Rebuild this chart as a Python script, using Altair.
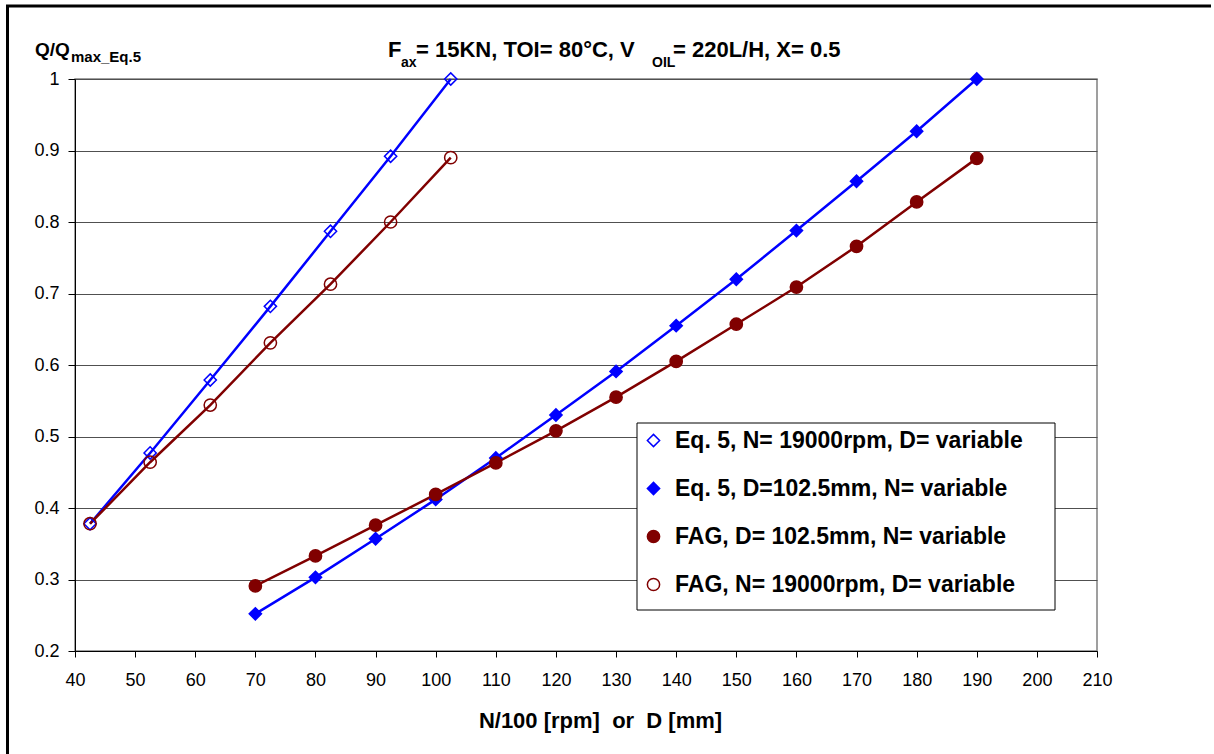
import altair as alt
import pandas as pd

# ---- data ----
d_var = [42.5, 52.5, 62.5, 72.5, 82.5, 92.5, 102.5]
eq5_n19000 = [0.378, 0.477, 0.579, 0.682, 0.787, 0.892, 1.0]
fag_n19000 = [0.378, 0.464, 0.544, 0.631, 0.713, 0.800, 0.890]

n_var = [70, 80, 90, 100, 110, 120, 130, 140, 150, 160, 170, 180, 190]
eq5_d1025 = [0.252, 0.303, 0.357, 0.412, 0.470, 0.530, 0.591, 0.655, 0.720, 0.788, 0.857, 0.927, 1.0]
fag_d1025 = [0.291, 0.333, 0.376, 0.419, 0.463, 0.508, 0.555, 0.605, 0.657, 0.709, 0.766, 0.828, 0.889]

series_names = [
    "Eq. 5, N= 19000rpm, D= variable",
    "Eq. 5, D=102.5mm, N= variable",
    "FAG, D= 102.5mm, N= variable",
    "FAG, N= 19000rpm, D= variable",
]
series_shapes = ["diamond", "diamond", "circle", "circle"]
series_strokes = ["#0000FF", "#0000FF", "#800000", "#800000"]
series_fills = ["transparent", "#0000FF", "#800000", "transparent"]

x_ticks = list(range(40, 211, 10))
y_ticks = [0.2, 0.3, 0.4, 0.5, 0.6, 0.7, 0.8, 0.9, 1.0]

rows = []
for x, y in zip(d_var, eq5_n19000):
    rows.append({"x": x, "y": y, "series": series_names[0], "grp": "blue"})
for x, y in zip(n_var, eq5_d1025):
    rows.append({"x": x, "y": y, "series": series_names[1], "grp": "blue"})
for x, y in zip(n_var, fag_d1025):
    rows.append({"x": x, "y": y, "series": series_names[2], "grp": "red"})
for x, y in zip(d_var, fag_n19000):
    rows.append({"x": x, "y": y, "series": series_names[3], "grp": "red"})
df = pd.DataFrame(rows)

FONT = "Liberation Sans"
PLOT_W, PLOT_H = 1022, 572
PAD_L, PAD_T = 75, 79

xscale = alt.Scale(domain=[40, 210], nice=False, zero=False)
yscale = alt.Scale(domain=[0.2, 1.0], nice=False, zero=False)

xenc = alt.X(
    "x:Q",
    scale=xscale,
    axis=alt.Axis(
        values=x_ticks,
        title="N/100 [rpm]\u00a0 or\u00a0 D [mm]",
        titleFont=FONT,
        titleFontSize=22,
        titleFontWeight="bold",
        titleColor="black",
        titleX=525,
        titleY=76,
        titleBaseline="alphabetic",
        titleAnchor="start",
        titleAlign="center",
        labelFont=FONT,
        labelFontSize=18,
        labelColor="black",
        labelPadding=14,
        tickSize=6,
        tickColor="black",
        domainColor="black",
        grid=False,
        labelFlush=False,
    ),
)
yenc = alt.Y(
    "y:Q",
    scale=yscale,
    axis=alt.Axis(
        values=y_ticks,
        format=".1~f",
        title=None,
        labelFont=FONT,
        labelFontSize=18,
        labelColor="black",
        labelPadding=9,
        tickSize=7,
        tickColor="black",
        domainColor="black",
        grid=True,
        gridColor="#505050",
        gridWidth=1,
        labelFlush=False,
    ),
)

blue_lines = (
    alt.Chart(df)
    .transform_filter(alt.datum.grp == "blue")
    .mark_line(color="#0000FF", strokeWidth=2.5)
    .encode(x=xenc, y=yenc, detail="series:N", order="x:Q")
)
red_lines = (
    alt.Chart(df)
    .transform_filter(alt.datum.grp == "red")
    .mark_line(color="#800000", strokeWidth=2.5)
    .encode(x=xenc, y=yenc, detail="series:N", order="x:Q")
)

leg = dict(
    title=None,
    orient="none",
    legendX=562,
    legendY=340,
    padding=10,
    rowPadding=24,
    labelFont=FONT,
    labelFontSize=23,
    labelFontWeight="bold",
    labelColor="black",
    labelOffset=10,
    labelLimit=600,
    symbolSize=150,
    symbolStrokeWidth=1.5,
    symbolOffset=-5,
)

points = (
    alt.Chart(df)
    .mark_point(filled=True, size=150, strokeWidth=1.5, opacity=1)
    .encode(
        x=xenc,
        y=yenc,
        shape=alt.Shape("series:N", scale=alt.Scale(domain=series_names, range=series_shapes), legend=alt.Legend(**leg)),
        fill=alt.Fill("series:N", scale=alt.Scale(domain=series_names, range=series_fills), legend=alt.Legend(**leg)),
        stroke=alt.Stroke("series:N", scale=alt.Scale(domain=series_names, range=series_strokes), legend=alt.Legend(**leg)),
    )
)

one = pd.DataFrame({"k": [0]})

# legend frame (white box with black border, behind the legend entries)
legend_box = (
    alt.Chart(one)
    .mark_rect(fill="white", stroke="black", strokeWidth=1)
    .encode(
        x=alt.value(637 - PAD_L), x2=alt.value(1055 - PAD_L),
        y=alt.value(423 - PAD_T), y2=alt.value(610 - PAD_T),
    )
)


# ---- titles with subscripts (text pieces) ----
def txt(s, x, y, size, weight="bold"):
    return (
        alt.Chart(one)
        .mark_text(text=s, font=FONT, fontSize=size, fontWeight=weight, color="black",
                   align="left", baseline="alphabetic")
        .encode(x=alt.value(x), y=alt.value(y))
    )


title_main = [
    txt("F", 388 - PAD_L, 57 - PAD_T, 22),
    txt("ax", 401 - PAD_L, 67 - PAD_T, 14),
    txt("= 15KN, TOI= 80\u00b0C, V", 416 - PAD_L, 57 - PAD_T, 22),
    txt("OIL", 652 - PAD_L, 67 - PAD_T, 14),
    txt("= 220L/H, X= 0.5", 673 - PAD_L, 57 - PAD_T, 22),
    txt("Q/Q", 35 - PAD_L, 56 - PAD_T, 19),
    txt("max_Eq.5", 71 - PAD_L, 62 - PAD_T, 15),
]

# outer frame (top and left black lines)
frame_top = (
    alt.Chart(one)
    .mark_rule(color="black", strokeWidth=3)
    .encode(x=alt.value(6 - PAD_L), x2=alt.value(1211 - PAD_L), y=alt.value(6 - PAD_T))
)
frame_left = (
    alt.Chart(one)
    .mark_rule(color="black", strokeWidth=3)
    .encode(x=alt.value(7.5 - PAD_L), y=alt.value(5 - PAD_T), y2=alt.value(760 - PAD_T))
)

chart = (
    alt.layer(blue_lines, red_lines, points, legend_box, *title_main, frame_top, frame_left)
    .properties(
        width=PLOT_W,
        height=PLOT_H,
        autosize=alt.AutoSizeParams(type="none"),
        padding={"left": PAD_L, "top": PAD_T, "right": 1214 - PAD_L - PLOT_W, "bottom": 754 - PAD_T - PLOT_H},
        background="white",
    )
    .configure_view(stroke="#808080", strokeWidth=1.5)
)

chart.save("out.html", embed_options={"renderer": "svg", "actions": False})
